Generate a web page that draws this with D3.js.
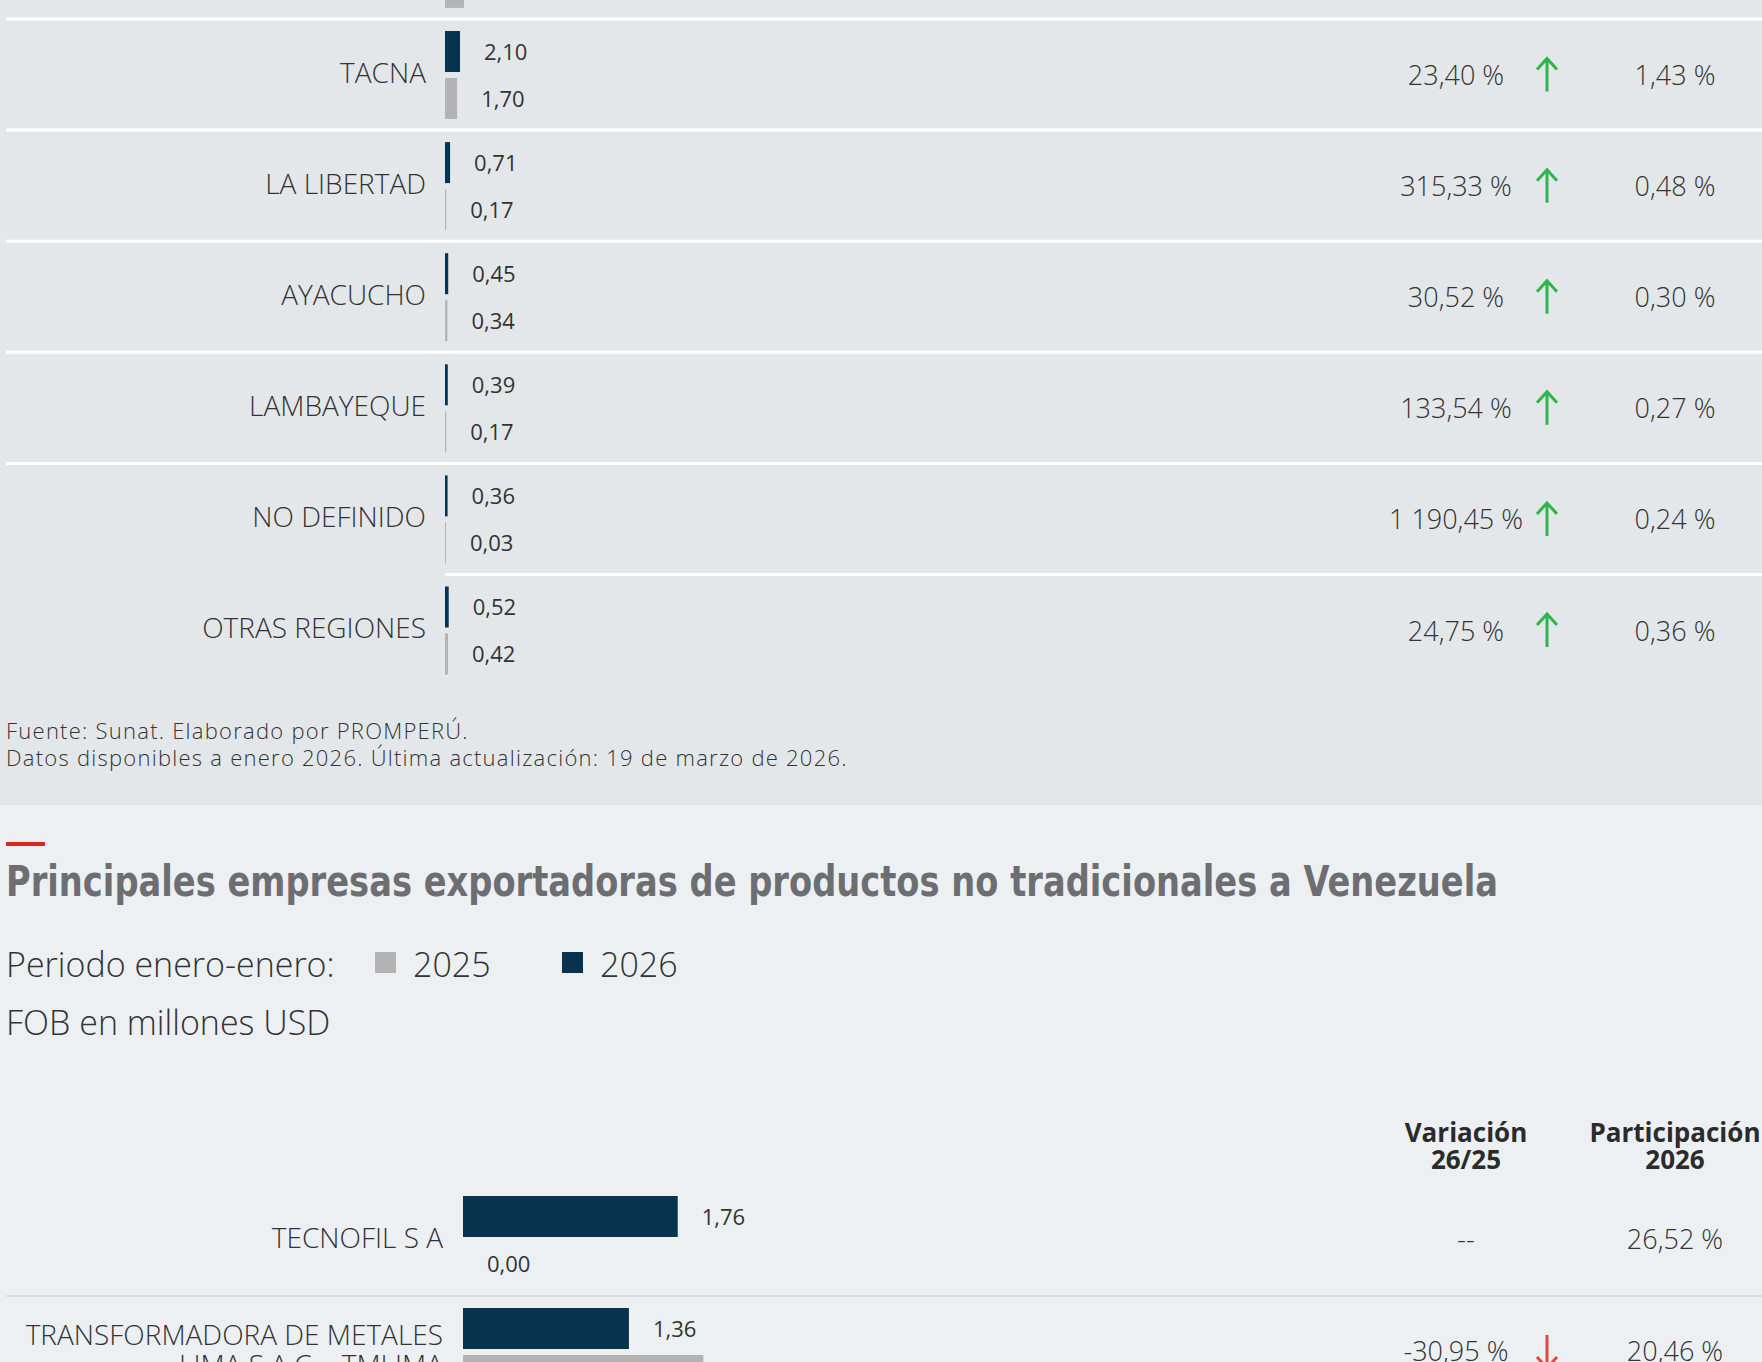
<!DOCTYPE html>
<html>
<head>
<meta charset="utf-8">
<script src="https://cdn.jsdelivr.net/npm/d3@7"></script>
<style>
  body { margin: 0; background: #ecf0f3; }
  svg { display: block; }
  .light { font-family: "Open Sans", "Noto Sans", sans-serif; font-weight: 300; fill: #333; }
</style>
</head>
<body>
<script>
// Exportaciones a Venezuela - regiones y empresas (FOB millones USD)

// regiones (the first row is the one cut off at the top)
var regions = ["", "TACNA", "LA LIBERTAD", "AYACUCHO", "LAMBAYEQUE", "NO DEFINIDO", "OTRAS REGIONES"];
var regions2026 = [null, 2.10, 0.71, 0.45, 0.39, 0.36, 0.52];
var regions2025 = [2.66, 1.70, 0.17, 0.34, 0.17, 0.03, 0.42];
var regionsVar = [null, 23.40, 315.33, 30.52, 133.54, 1190.45, 24.75];
var regionsShare = [null, 1.43, 0.48, 0.30, 0.27, 0.24, 0.36];

// empresas
var companies = ["TECNOFIL S A", "TRANSFORMADORA DE METALES\nLIMA S.A.C. - TMLIMA"];
var companies2026 = [1.76, 1.36];
var companies2025 = [0.00, 1.97];
var companiesVar = [null, -30.95];
var companiesShare = [26.52, 20.46];

var years = ["2026", "2025"];
var colors = { "2026": "#08334f", "2025": "#b3b3b3" };

var es = d3.formatLocale({ decimal: ",", thousands: " ", grouping: [3], currency: ["", ""], minus: "-" });
var fmt = es.format(",.2f");
var pct = function(v){ return fmt(v) + " %"; };

var w = 1762, h = 1362;

var svg = d3.select("body").append("svg")
  .attr("width", w)
  .attr("height", h);

// two background panels
svg.append("rect").attr("x", 0).attr("y", 0).attr("width", w).attr("height", 805).style("fill", "#e4e7e9");
svg.append("rect").attr("x", 0).attr("y", 805).attr("width", w).attr("height", h - 805).style("fill", "#ecf0f3");

// draws one block of rows (bars + labels + variation + share)
function drawRows(opt){
  var n = opt.names.length;
  var rows = d3.range(n).map(function(i){
    return { i: i, name: opt.names[i], v2026: opt.v2026[i], v2025: opt.v2025[i], vr: opt.vr[i], share: opt.share[i] };
  });

  var y = d3.scaleBand().domain(d3.range(n)).range([opt.top, opt.top + n * opt.rowH]);
  var inner = d3.scaleBand().domain(years).range([12, 100]).paddingInner(6 / 47);
  var x = opt.x;
  var x0 = x(0);

  var g = svg.append("g");

  // separators between rows
  g.selectAll(".sep")
    .data(rows.slice(1))
    .enter().append("line")
    .attr("x1", function(d){ return (opt.lastSepAtBar && d.i === n - 1) ? x0 : 6; })
    .attr("x2", w)
    .attr("y1", function(d){ return y(d.i); })
    .attr("y2", function(d){ return y(d.i); })
    .style("stroke", opt.sepColor)
    .style("stroke-width", opt.sepWidth);

  var row = g.selectAll(".row")
    .data(rows)
    .enter().append("g")
    .attr("transform", function(d){ return "translate(0," + y(d.i) + ")"; });

  var mid = y.bandwidth() / 2;

  // category names (may wrap on \n)
  row.filter(function(d){ return d.name !== ""; })
    .append("text")
    .attr("class", "light")
    .attr("text-anchor", "end")
    .style("font-size", "28px")
    .each(function(d){
      var lines = d.name.split("\n");
      var t = d3.select(this);
      lines.forEach(function(l, k){
        t.append("tspan")
          .attr("x", opt.labelX)
          .attr("y", mid + opt.textDy + (k - (lines.length - 1) / 2) * 30)
          .text(l);
      });
    });

  // bars
  years.forEach(function(yr){
    var key = "v" + yr;
    var bars = row.filter(function(d){ return d[key] !== null; });
    bars.append("rect")
      .attr("x", x0)
      .attr("y", inner(yr))
      .attr("width", function(d){ return d[key] > 0 ? Math.max(1, x(d[key]) - x0) : 0; })
      .attr("height", inner.bandwidth())
      .style("fill", colors[yr]);
    bars.filter(function(d){ return d.name !== ""; })
      .append("text")
      .attr("class", "light")
      .attr("x", function(d){ return x0 + (d[key] > 0 ? Math.max(1, x(d[key]) - x0) : 0) + 24; })
      .attr("y", inner(yr) + inner.bandwidth() / 2 + 8)
      .style("font-size", "22px")
      .style("font-weight", 400)
      .text(function(d){ return fmt(d[key]); });
  });

  var shown = row.filter(function(d){ return d.name !== ""; });

  // variation 26/25
  shown.append("text")
    .attr("class", "light")
    .attr("text-anchor", "middle")
    .attr("x", function(d){ return d.vr === null ? 1466 : 1456; })
    .attr("y", mid + opt.pctDy)
    .style("font-size", "27px")
    .text(function(d){ return d.vr === null ? "--" : pct(d.vr); });

  // arrows
  shown.filter(function(d){ return d.vr !== null; })
    .append("path")
    .attr("d", function(d){
      var cx = 1547, s = d.vr > 0 ? -1 : 1;
      return "M" + cx + "," + (mid - s * 17) + "V" + (mid + s * 16) +
        "M" + (cx - 10) + "," + (mid + s * 5) + "L" + cx + "," + (mid + s * 16) + "L" + (cx + 10) + "," + (mid + s * 5);
    })
    .style("fill", "none")
    .style("stroke", function(d){ return d.vr > 0 ? "#2cb64c" : "#e2483f"; })
    .style("stroke-width", 3);

  // share 2026
  shown.append("text")
    .attr("class", "light")
    .attr("text-anchor", "middle")
    .attr("x", 1675)
    .attr("y", mid + opt.pctDy)
    .style("font-size", "27px")
    .text(function(d){ return pct(d.share); });
}

// ---- regiones block
drawRows({
  names: regions, v2026: regions2026, v2025: regions2025, vr: regionsVar, share: regionsShare,
  top: 19 - 111.1, rowH: 111.1,
  x: d3.scaleLinear().domain([0, 100]).range([445, 1159]),
  labelX: 426, textDy: 8, pctDy: 10.5,
  sepColor: "#ffffff", sepWidth: 3, lastSepAtBar: true
});

// footnote
var notes = ["Fuente: Sunat. Elaborado por PROMPERÚ.",
  "Datos disponibles a enero 2026. Última actualización: 19 de marzo de 2026."];
svg.selectAll(".note").data(notes).enter().append("text")
  .attr("class", "light")
  .attr("x", 6)
  .attr("y", function(d, i){ return 739 + i * 27; })
  .style("font-size", "22px")
  .style("letter-spacing", "1.25px")
  .text(function(d){ return d; });

// ---- empresas block header
svg.append("rect").attr("x", 6).attr("y", 842).attr("width", 39).attr("height", 4).style("fill", "#d8281f");

svg.append("text")
  .attr("x", 6).attr("y", 896)
  .attr("textLength", 1492).attr("lengthAdjust", "spacingAndGlyphs")
  .style("font-family", "'Liberation Sans Narrow', 'DejaVu Sans Condensed', sans-serif")
  .style("font-weight", 700)
  .style("font-size", "42px")
  .style("fill", "#6d6e71")
  .text("Principales empresas exportadoras de productos no tradicionales a Venezuela");

var legend = svg.append("g");
legend.append("text").attr("class", "light").attr("x", 6).attr("y", 977).style("font-size", "34px")
  .text("Periodo enero-enero:");
var legendItems = [{ yr: "2025", x: 375 }, { yr: "2026", x: 562 }];
legend.selectAll(".sw").data(legendItems).enter().append("rect")
  .attr("x", function(d){ return d.x; }).attr("y", 952).attr("width", 21).attr("height", 21)
  .style("fill", function(d){ return colors[d.yr]; });
legend.selectAll(".lt").data(legendItems).enter().append("text")
  .attr("class", "light")
  .attr("x", function(d){ return d.x + 38; }).attr("y", 977).style("font-size", "34px")
  .text(function(d){ return d.yr; });
legend.append("text").attr("class", "light").attr("x", 6).attr("y", 1035).style("font-size", "34px")
  .text("FOB en millones USD");

// column headers
var headers = [{ x: 1466, l: ["Variación", "26/25"] }, { x: 1675, l: ["Participación", "2026"] }];
headers.forEach(function(hd){
  hd.l.forEach(function(t, k){
    svg.append("text")
      .attr("x", hd.x).attr("y", 1142 + k * 27)
      .attr("text-anchor", "middle")
      .style("font-family", "'Open Sans', 'Noto Sans', sans-serif")
      .style("font-weight", 700)
      .style("font-size", "26px")
      .style("fill", "#2b2b2b")
      .text(t);
  });
});

// ---- empresas block
drawRows({
  names: companies, v2026: companies2026, v2025: companies2025, vr: companiesVar, share: companiesShare,
  top: 1184, rowH: 112,
  x: d3.scaleLinear().domain([0, 2]).range([463, 707]),
  labelX: 443, textDy: 8, pctDy: 9,
  sepColor: "#dcdddf", sepWidth: 2, lastSepAtBar: false
});
</script>
</body>
</html>
